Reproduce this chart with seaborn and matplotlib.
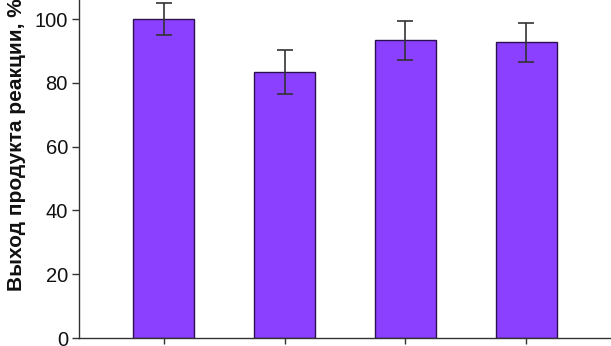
import numpy as np
import pandas as pd
import matplotlib
matplotlib.use("Agg")
import matplotlib.pyplot as plt
import seaborn as sns

# bar values and errors
groups = ["1", "2", "3", "4"]
yields = [100.0, 83.4, 93.3, 92.7]
errors = [5.0, 7.0, 6.0, 6.0]

df = pd.DataFrame({"group": groups, "yield": yields, "err": errors})

sns.set_style("ticks")
plt.rcParams["font.family"] = ["Liberation Sans", "DejaVu Sans"]
plt.rcParams["text.color"] = "#111111"
plt.rcParams["ytick.labelcolor"] = "#111111"

fig = plt.figure(figsize=(6.11, 3.46), dpi=100)
ax = fig.add_axes([0.1293, 0.0231, 0.8707, 0.9769])

sns.barplot(data=df, x="group", y="yield", color="#8C40FF", saturation=1,
            width=0.5, edgecolor="#2a1050", linewidth=1.0, errorbar=None, ax=ax)
ax.errorbar(np.arange(len(groups)), df["yield"], yerr=df["err"], fmt="none",
            ecolor="#333333", elinewidth=1.2, capsize=6, capthick=1.2)

ax.set_xlim(-0.7, 3.7)
ax.set_ylim(0, 106)
ax.set_yticks([0, 20, 40, 60, 80, 100])
ax.set_xticklabels([])
ax.set_xlabel("")
ax.set_ylabel("Выход продукта реакции, %", fontsize=15, fontweight="bold",
              color="#111111")
ax.yaxis.set_label_coords(-0.1, 0.572)
ax.tick_params(axis="y", labelsize=14.5, labelcolor="#111111", direction="out",
               length=5, width=1, color="#333333", pad=3)
ax.tick_params(axis="x", direction="out", length=4, width=1, color="#333333")
for s in ["top", "right"]:
    ax.spines[s].set_visible(False)
for s in ["left", "bottom"]:
    ax.spines[s].set_color("#333333")
    ax.spines[s].set_linewidth(1.0)

fig.savefig("out.png", dpi=100)
